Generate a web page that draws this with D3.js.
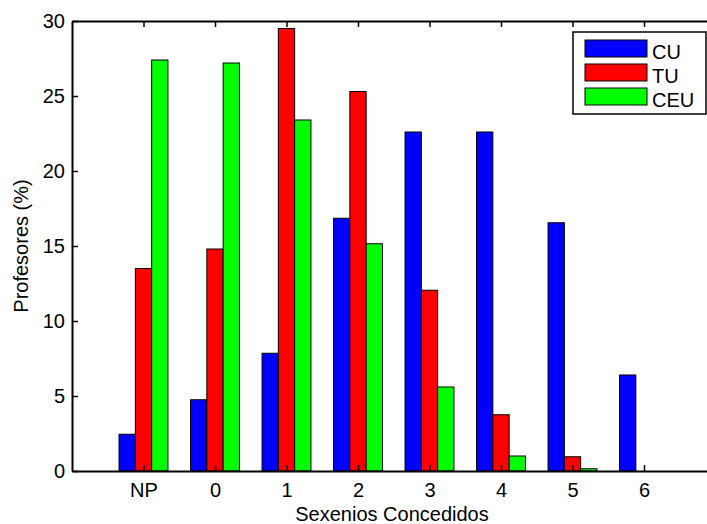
<!DOCTYPE html>
<html>
<head>
<meta charset="utf-8">
<script src="https://cdn.jsdelivr.net/npm/d3@7"></script>
<style>
  body { margin: 0; background: #fff; }
  svg { display: block; font-family: "Liberation Sans", Arial, sans-serif; }
</style>
</head>
<body>
<svg id="chart" width="707" height="524"></svg>
<script>
// Datos del gráfico
const categories = ["NP", "0", "1", "2", "3", "4", "5", "6"];
const seriesNames = ["CU", "TU", "CEU"];
const seriesColors = ["#0000ff", "#ff0000", "#00ff00"];
const cuValues  = [2.45, 4.75, 7.85, 16.85, 22.6, 22.6, 16.55, 6.4];
const tuValues  = [13.5, 14.8, 29.5, 25.3, 12.05, 3.75, 0.95, 0];
const ceuValues = [27.4, 27.2, 23.4, 15.15, 5.6, 1.0, 0.15, 0];
const yTicks = [0, 5, 10, 15, 20, 25, 30];

const series = [cuValues, tuValues, ceuValues];

// --- Dimensiones ---
const plotLeft = 72, plotTop = 21, plotBottom = 471;
const step = 71.5;
const plotRight = plotLeft + step * 9; // se sale de la imagen, como en el original
const fontSize = "20px";

const svg = d3.select("#chart");

// Escalas
const x = d3.scaleLinear().domain([0, 9]).range([plotLeft, plotRight]);
const y = d3.scaleLinear().domain([0, 30]).range([plotBottom, plotTop]);
const barW = 16.3;

// --- Barras ---
series.forEach((vals, s) => {
    svg.append("g").selectAll("rect")
        .data(vals)
        .enter()
        .append("rect")
        .attr("x", (d, i) => x(i + 1) + (s - 1.5) * barW)
        .attr("y", d => y(d))
        .attr("width", barW)
        .attr("height", d => y(0) - y(d))
        .attr("fill", seriesColors[s])
        .attr("stroke", "#000")
        .attr("stroke-width", 1);
});

// --- Ejes (ticks hacia dentro, estilo MATLAB) ---
const tickLen = 6;
const xIdx = categories.map((c, i) => i + 1);

svg.append("g")
    .attr("transform", `translate(0,${plotBottom})`)
    .call(d3.axisBottom(x).tickValues(xIdx).tickFormat((d, i) => categories[i])
        .tickSizeInner(-tickLen).tickSizeOuter(0).tickPadding(12))
    .call(g => g.select(".domain").attr("stroke-width", 2));

svg.append("g")
    .attr("transform", `translate(0,${plotTop})`)
    .call(d3.axisTop(x).tickValues(xIdx).tickFormat("")
        .tickSizeInner(-tickLen).tickSizeOuter(0))
    .call(g => g.select(".domain").attr("stroke-width", 2));

svg.append("g")
    .attr("transform", `translate(${plotLeft},0)`)
    .call(d3.axisLeft(y).tickValues(yTicks)
        .tickSizeInner(-tickLen).tickSizeOuter(0).tickPadding(7))
    .call(g => g.select(".domain").attr("stroke-width", 2));

svg.selectAll(".tick line").attr("stroke-width", 1.5);
svg.selectAll(".tick text")
    .style("font-size", fontSize)
    .style("font-family", "'Liberation Sans', Arial, sans-serif")
    .attr("fill", "#000");

// Títulos de ejes
svg.append("text")
    .attr("x", 392)
    .attr("y", 521)
    .attr("text-anchor", "middle")
    .style("font-size", fontSize)
    .text("Sexenios Concedidos");

svg.append("text")
    .attr("transform", `translate(28,${(plotTop + plotBottom) / 2}) rotate(-90)`)
    .attr("text-anchor", "middle")
    .style("font-size", fontSize)
    .text("Profesores (%)");

// --- Leyenda ---
const legend = svg.append("g");
legend.append("rect")
    .attr("x", 573).attr("y", 32)
    .attr("width", 133).attr("height", 82)
    .attr("fill", "#fff").attr("stroke", "#000").attr("stroke-width", 1.5);

seriesNames.forEach((name, i) => {
    const yy = 40 + i * 24;
    legend.append("rect")
        .attr("x", 585).attr("y", yy)
        .attr("width", 62).attr("height", 17)
        .attr("fill", seriesColors[i])
        .attr("stroke", "#000").attr("stroke-width", 1);
    legend.append("text")
        .attr("x", 652).attr("y", yy + 19)
        .style("font-size", fontSize)
        .text(name);
});
</script>
</body>
</html>
